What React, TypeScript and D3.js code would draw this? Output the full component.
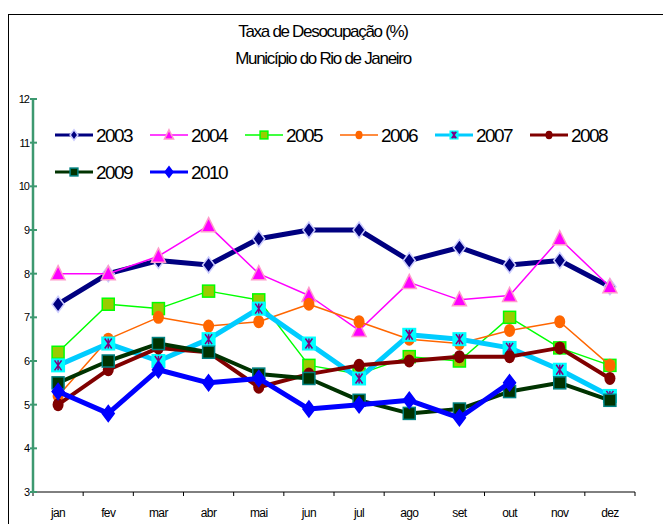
import { useRef, useEffect } from 'react';
import * as d3 from 'd3';

const MONTHS = ['jan', 'fev', 'mar', 'abr', 'mai', 'jun', 'jul', 'ago', 'set', 'out', 'nov', 'dez'];
const Y_TICKS = [3, 4, 5, 6, 7, 8, 9, 10, 11, 12];

const S2003 = [7.3, 8.0, 8.3, 8.2, 8.8, 9.0, 9.0, 8.3, 8.6, 8.2, 8.3, 7.7];
const S2004 = [8.0, 8.0, 8.4, 9.1, 8.0, 7.5, 6.7, 7.8, 7.4, 7.5, 8.8, 7.7];
const S2005 = [6.2, 7.3, 7.2, 7.6, 7.4, 5.9, 5.7, 6.1, 6.0, 7.0, 6.3, 5.9];
const S2006 = [5.2, 6.5, 7.0, 6.8, 6.9, 7.3, 6.9, 6.5, 6.4, 6.7, 6.9, 5.9];
const S2007 = [5.9, 6.4, 6.0, 6.5, 7.2, 6.4, 5.6, 6.6, 6.5, 6.3, 5.8, 5.2];
const S2008 = [5.0, 5.8, 6.3, 6.2, 5.4, 5.7, 5.9, 6.0, 6.1, 6.1, 6.3, 5.6];
const S2009 = [5.5, 6.0, 6.4, 6.2, 5.7, 5.6, 5.1, 4.8, 4.9, 5.3, 5.5, 5.1];
const S2010 = [5.3, 4.8, 5.8, 5.5, 5.6, 4.9, 5.0, 5.1, 4.7, 5.5];

type Marker = 'diamond' | 'triangle' | 'square' | 'circle' | 'xsquare';

interface Series {
  name: string;
  values: number[];
  line: string;
  width: number;
  marker: Marker;
  fill: string;
  stroke: string;
}

const SERIES: Series[] = [
  { name: '2003', values: S2003, line: '#000080', width: 5, marker: 'diamond', fill: '#000080', stroke: '#ccccff' },
  { name: '2004', values: S2004, line: '#ff00ff', width: 1.5, marker: 'triangle', fill: '#ff00ff', stroke: '#ff99cc' },
  { name: '2005', values: S2005, line: '#00ff00', width: 1.5, marker: 'square', fill: '#99cc00', stroke: '#00ff00' },
  { name: '2006', values: S2006, line: '#ff6600', width: 1.5, marker: 'circle', fill: '#ff6600', stroke: '#ff6600' },
  { name: '2007', values: S2007, line: '#00ccff', width: 5, marker: 'xsquare', fill: '#00ffff', stroke: '#800080' },
  { name: '2008', values: S2008, line: '#800000', width: 4, marker: 'circle', fill: '#800000', stroke: '#800000' },
  { name: '2009', values: S2009, line: '#003300', width: 4, marker: 'square', fill: '#003300', stroke: '#008080' },
  { name: '2010', values: S2010, line: '#0000ff', width: 5, marker: 'diamond', fill: '#0000ff', stroke: '#0000ff' },
];

const FONT = '"Liberation Sans", Arial, sans-serif';

function drawMarker(
  g: d3.Selection<SVGGElement, unknown, null, undefined>,
  s: Series,
  x: number,
  y: number,
  scale: number,
) {
  if (s.marker === 'diamond') {
    const w = 6 * scale;
    const h = 8 * scale;
    g.append('path')
      .attr('d', `M${x},${y - h}L${x + w},${y}L${x},${y + h}L${x - w},${y}Z`)
      .attr('fill', s.fill)
      .attr('stroke', s.stroke)
      .attr('stroke-width', 1.5);
  } else if (s.marker === 'triangle') {
    const h = 8 * scale;
    g.append('path')
      .attr('d', `M${x},${y - h}L${x + 7 * scale},${y + h * 0.75}L${x - 7 * scale},${y + h * 0.75}Z`)
      .attr('fill', s.fill)
      .attr('stroke', s.stroke)
      .attr('stroke-width', 1.5);
  } else if (s.marker === 'square') {
    const r = 6 * scale;
    g.append('rect')
      .attr('x', x - r)
      .attr('y', y - r)
      .attr('width', 2 * r)
      .attr('height', 2 * r)
      .attr('fill', s.fill)
      .attr('stroke', s.stroke)
      .attr('stroke-width', 1.5);
  } else if (s.marker === 'circle') {
    g.append('ellipse')
      .attr('cx', x)
      .attr('cy', y)
      .attr('rx', 5.5 * scale)
      .attr('ry', 6.5 * scale)
      .attr('fill', s.fill);
  } else {
    const r = 7 * scale;
    g.append('rect')
      .attr('x', x - r)
      .attr('y', y - r)
      .attr('width', 2 * r)
      .attr('height', 2 * r)
      .attr('fill', s.fill);
    const a = 3.5 * scale;
    g.append('path')
      .attr('d', `M${x - a},${y - 5 * scale}L${x + a},${y + 5 * scale}M${x + a},${y - 5 * scale}L${x - a},${y + 5 * scale}M${x},${y - 5 * scale}L${x},${y + 5 * scale}`)
      .attr('stroke', s.stroke)
      .attr('stroke-width', 1.5);
  }
}

export default function App() {
  const svgRef = useRef<SVGSVGElement>(null);

  useEffect(() => {
    if (!svgRef.current) return;
    const svg = d3.select(svgRef.current);
    svg.selectAll('*').remove();

    const left = 33;
    const right = 635;
    const top = 99;
    const bottom = 492;

    const x = d3.scaleBand<string>().domain(MONTHS).range([left, right]);
    const y = d3.scaleLinear().domain([3, 12]).range([bottom, top]);
    const cx = (m: string) => (x(m) ?? 0) + x.bandwidth() / 2;

    // outer frame
    svg.append('rect')
      .attr('x', 8.5).attr('y', 14.5)
      .attr('width', 700).attr('height', 600)
      .attr('fill', 'none').attr('stroke', '#000').attr('stroke-width', 1);

    // title
    const title = svg.append('text')
      .attr('text-anchor', 'middle')
      .attr('font-family', FONT)
      .attr('font-size', 17)
      .attr('letter-spacing', -1.3)
      .attr('fill', '#000');
    title.append('tspan').attr('x', 323).attr('y', 37).text('Taxa de Desocupação (%)');
    title.append('tspan').attr('x', 323).attr('y', 64).text('Município do Rio de Janeiro');

    // x axis
    const xg = svg.append('g');
    xg.append('line')
      .attr('x1', left).attr('x2', right)
      .attr('y1', bottom).attr('y2', bottom)
      .attr('stroke', '#000').attr('stroke-width', 1);
    const bounds = MONTHS.map((m) => x(m) ?? 0).concat([right]);
    bounds.forEach((b) => {
      xg.append('line')
        .attr('x1', b).attr('x2', b)
        .attr('y1', bottom).attr('y2', bottom + 4)
        .attr('stroke', '#000');
    });
    MONTHS.forEach((m) => {
      xg.append('text')
        .attr('x', cx(m)).attr('y', 517)
        .attr('text-anchor', 'middle')
        .attr('font-family', FONT)
        .attr('font-size', 12)
        .attr('letter-spacing', -0.6)
        .text(m);
    });

    // y axis
    const yg = svg.append('g');
    yg.append('line')
      .attr('x1', left).attr('x2', left)
      .attr('y1', top).attr('y2', bottom)
      .attr('stroke', '#3d9970').attr('stroke-width', 2.5);
    Y_TICKS.forEach((t) => {
      yg.append('line')
        .attr('x1', left - 3).attr('x2', left + 4)
        .attr('y1', y(t)).attr('y2', y(t))
        .attr('stroke', '#3d9970').attr('stroke-width', 2);
      yg.append('text')
        .attr('x', left - 4).attr('y', y(t) + 4)
        .attr('text-anchor', 'end')
        .attr('font-family', FONT)
        .attr('font-size', 11)
        .attr('letter-spacing', -1)
        .text(t);
    });

    // series
    const plot = svg.append('g');
    SERIES.forEach((s) => {
      const line = d3.line<number>()
        .x((_, i) => cx(MONTHS[i]))
        .y((d) => y(d));
      plot.append('path')
        .attr('d', line(s.values))
        .attr('fill', 'none')
        .attr('stroke', s.line)
        .attr('stroke-width', s.width)
        .attr('stroke-linejoin', 'round');
      const mg = plot.append('g');
      s.values.forEach((v, i) => drawMarker(mg, s, cx(MONTHS[i]), y(v), 1));
    });

    // legend
    const legend = svg.append('g');
    SERIES.forEach((s, i) => {
      const col = i < 6 ? i : i - 6;
      const row = i < 6 ? 0 : 1;
      const lx = 55 + col * 95;
      const ly = 135 + row * 37;
      legend.append('line')
        .attr('x1', lx).attr('x2', lx + 38)
        .attr('y1', ly).attr('y2', ly)
        .attr('stroke', s.line)
        .attr('stroke-width', Math.min(s.width, 3));
      const mg = legend.append('g');
      drawMarker(mg, s, lx + 19, ly, 0.65);
      legend.append('text')
        .attr('x', lx + 41).attr('y', ly + 7)
        .attr('font-family', FONT)
        .attr('font-size', 19)
        .attr('letter-spacing', -1.6)
        .text(s.name);
    });
  }, []);

  return (
    <>
      <style>{'body{margin:0}'}</style>
      <svg ref={svgRef} width={663} height={524} style={{ display: 'block', background: '#fff' }} />
    </>
  );
}
